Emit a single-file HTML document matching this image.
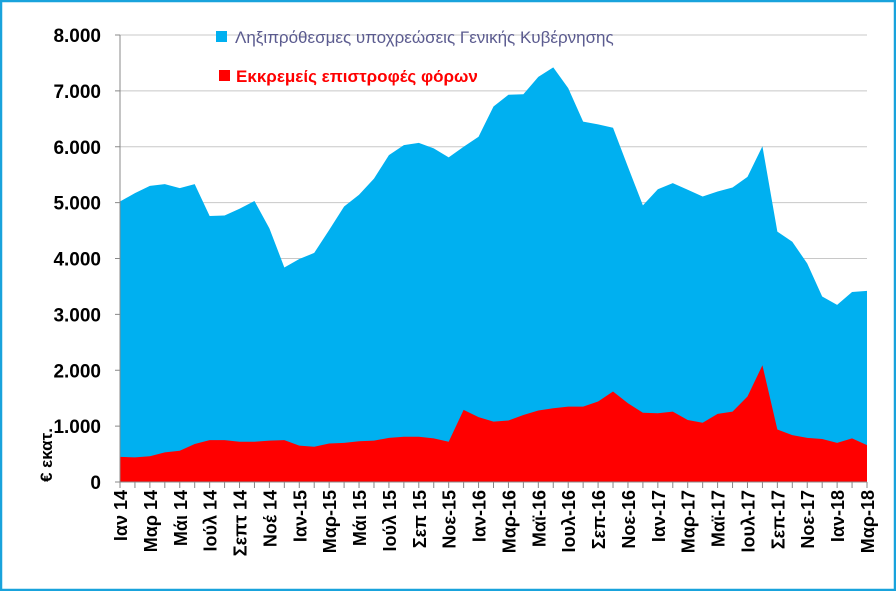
<!DOCTYPE html>
<html><head><meta charset="utf-8"><style>
html,body{margin:0;padding:0;background:#fff}
svg{display:block}
text{font-family:"Liberation Sans",Arial,sans-serif;font-weight:bold}
</style></head><body>
<svg id="chart" width="896" height="591" viewBox="0 0 896 591" xmlns="http://www.w3.org/2000/svg">
<rect x="1" y="1" width="894" height="589" fill="#fff" stroke="#19a3dc" stroke-width="2.5"/>
<g id="grid"></g>
<g id="areas"></g>
<g id="axes"></g>
<g>
<rect x="216" y="31" width="11" height="11" fill="#00b0f0"/>
<text x="235" y="43" font-size="17" fill="#5b5b8f" style="font-weight:normal">Ληξιπρόθεσμες υποχρεώσεις Γενικής Κυβέρνησης</text>
<rect x="219" y="70" width="11" height="11" fill="#ff0000"/>
<text x="236" y="82" font-size="17" fill="#ff0000">Εκκρεμείς επιστροφές φόρων</text>
</g>
<text transform="translate(52,482) rotate(-90)" font-size="17" fill="#000" text-anchor="start">€ εκατ.</text>
</svg>
<script>
const categories = ["Ιαν 14","Φεβ 14","Μαρ 14","Απρ 14","Μάι 14","Ιούν 14","Ιούλ 14","Αύγ 14","Σεπτ 14","Οκτ 14","Νοέ 14","Δεκ 14","Ιαν-15","Φεβ-15","Μαρ-15","Απρ-15","Μάι 15","Ιούν 15","Ιούλ 15","Αύγ 15","Σεπ 15","Οκτ 15","Νοε-15","Δεκ-15","Ιαν-16","Φεβ-16","Μαρ-16","Απρ-16","Μαϊ-16","Ιουν-16","Ιουλ-16","Αυγ-16","Σεπ-16","Οκτ-16","Νοε-16","Δεκ-16","Ιαν-17","Φεβ-17","Μαρ-17","Απρ-17","Μαϊ-17","Ιουν-17","Ιουλ-17","Αυγ-17","Σεπ-17","Οκτ-17","Νοε-17","Δεκ-17","Ιαν-18","Φεβ-18","Μαρ-18"];
const taxRefunds = [450,440,460,530,560,680,750,750,720,720,740,750,650,630,690,700,730,740,790,810,810,780,720,1290,1160,1080,1100,1200,1280,1320,1350,1350,1440,1620,1410,1240,1230,1260,1110,1060,1220,1260,1530,2090,940,840,790,770,700,780,660];
const longTermArrears = [4570,4730,4840,4800,4700,4650,4010,4020,4170,4310,3800,3090,3340,3470,3820,4230,4410,4690,5060,5220,5260,5190,5090,4710,5020,5640,5830,5740,5970,6100,5700,5100,4960,4720,4230,3710,4010,4090,4120,4050,3980,4010,3930,3920,3540,3460,3120,2550,2470,2620,2760];
const yTicks = [0,1000,2000,3000,4000,5000,6000,7000,8000];
const yTickLabels = ["0","1.000","2.000","3.000","4.000","5.000","6.000","7.000","8.000"];

const NS="http://www.w3.org/2000/svg";
const X0=120,X1=867,Y0=482,YT=35,YMAX=8000;
const xs=i=>X0+i*(X1-X0)/(categories.length-1);
const ys=v=>Y0-v*(Y0-YT)/YMAX;
function mk(tag,attrs,parent){const e=document.createElementNS(NS,tag);for(const k in attrs)e.setAttribute(k,attrs[k]);parent.appendChild(e);return e;}
const gridG=document.getElementById('grid'),areasG=document.getElementById('areas'),axesG=document.getElementById('axes');
yTicks.forEach((t,i)=>{
  if(t>0){const l=mk('line',{x1:X0,x2:X1,y1:ys(t),y2:ys(t),stroke:'#c8c8c8','stroke-width':1},gridG);
  
  }
  const tk=mk('line',{x1:X0-5,x2:X0,y1:ys(t),y2:ys(t),stroke:'#888'},axesG);
  
  
  const tx=mk('text',{x:X0-19,y:ys(t)+7,'font-size':19,'text-anchor':'end',fill:'#000'},axesG);
  tx.textContent=yTickLabels[i];
  
  
});
const totals=taxRefunds.map((r,i)=>r+longTermArrears[i]);
let topPath='M'+xs(0)+','+ys(0);
totals.forEach((v,i)=>topPath+=' L'+xs(i)+','+ys(v));
topPath+=' L'+xs(totals.length-1)+','+ys(0)+' Z';
const a1=mk('path',{d:topPath,fill:'#00b0f0'},areasG);


let botPath='M'+xs(0)+','+ys(0);
taxRefunds.forEach((v,i)=>botPath+=' L'+xs(i)+','+ys(v));
botPath+=' L'+xs(taxRefunds.length-1)+','+ys(0)+' Z';
const a2=mk('path',{d:botPath,fill:'#ff0000'},areasG);


const ya=mk('line',{x1:X0,x2:X0,y1:YT,y2:Y0,stroke:'#888'},axesG);


const xa=mk('line',{x1:X0,x2:X1,y1:Y0,y2:Y0,stroke:'#888'},axesG);


categories.forEach((c,i)=>{
  const tk=mk('line',{x1:xs(i),x2:xs(i),y1:Y0,y2:Y0+6,stroke:'#888'},axesG);
  
  
  if(i%2===0){
    const tx=mk('text',{transform:'translate('+(xs(i)+7)+','+(Y0+8)+') rotate(-90)','font-size':18,'text-anchor':'end',fill:'#000'},axesG);
    tx.textContent=c;
    
    
  }
});
</script>
</body></html>
